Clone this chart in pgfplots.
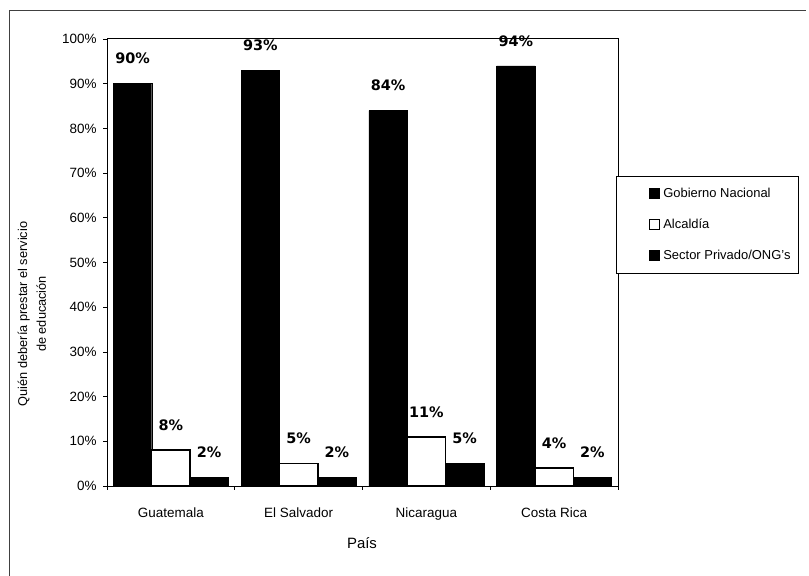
\documentclass[border=0pt]{standalone}
\usepackage{pgfplots}
\pgfplotsset{compat=1.18}
\usepackage{fontspec}
\setmainfont{Liberation Sans}
\newfontfamily\lblfont{DejaVu Sans}
\begin{document}
\begin{tikzpicture}
\useasboundingbox (0,0) rectangle (809bp,576bp);
\draw[line width=0.8bp, black!75] (9bp,0bp) -- (9bp,566bp) -- (806bp,566bp);
\begin{axis}[
  at={(107bp,90bp)}, anchor=south west,
  scale only axis, width=511bp, height=447bp,
  ybar, bar width=38.3bp,
  xmin=-0.5, xmax=3.5, ymin=0, ymax=100,
  xtick={0,1,2,3},
  xticklabels={Guatemala, El Salvador, Nicaragua, Costa Rica},
  major x tick style={draw=none},
  minor xtick={-0.5,0.5,1.5,2.5,3.5},
  ytick={0,10,...,100},
  yticklabel={\pgfmathprintnumber{\tick}\%},
  /pgf/number format/assume math mode=true,
  tick pos=left, tick align=outside,
  major tick length=4bp, minor tick length=4bp,
  tick style={black, line width=0.6bp},
  axis line style={line width=1bp},
  tick label style={font=\fontsize{13.5}{15}\selectfont},
  yticklabel style={xshift=-3bp},
  xticklabel style={yshift=-14bp},
  xlabel={País},
  xlabel style={font=\fontsize{15}{17}\selectfont, at={(axis description cs:0.499,-0.1275)}, anchor=center},
  ylabel={Quién debería prestar el servicio\\de educación},
  ylabel style={font=\fontsize{12.8}{19}\selectfont, align=center, at={(axis description cs:-0.147,0.385)}, anchor=center},
  nodes near coords={\pgfmathprintnumber{\pgfplotspointmeta}\%},
  nodes near coords style={font=\lblfont\bfseries\fontsize{14.5}{16}\selectfont, anchor=center, yshift=25bp},
  legend image code/.code={\path (0bp,0bp); \draw[#1, line width=0.6bp] (28bp,-5bp) rectangle (38bp,5bp);},
  legend cell align=left,
  legend style={at={(1,0.6935)}, anchor=north west, xshift=-2bp, draw=black, line width=0.6bp,
    font=\fontsize{13}{15}\selectfont, row sep=16bp, inner ysep=10bp, inner xsep=4bp,
    nodes={inner xsep=4bp}},
]
\addplot[fill=black, draw=black, bar shift=-38.3bp] coordinates {(0,90) (1,93) (2,84) (3,94)};
\addplot[fill=white, draw=black, line width=1.5bp, bar shift=0bp] coordinates {(0,8) (1,5) (2,11) (3,4)};
\addplot[fill=black, draw=black, bar shift=38.3bp] coordinates {(0,2) (1,2) (2,5) (3,2)};
\legend{Gobierno Nacional, Alcaldía, Sector Privado/ONG's}
\end{axis}
\end{tikzpicture}
\end{document}
